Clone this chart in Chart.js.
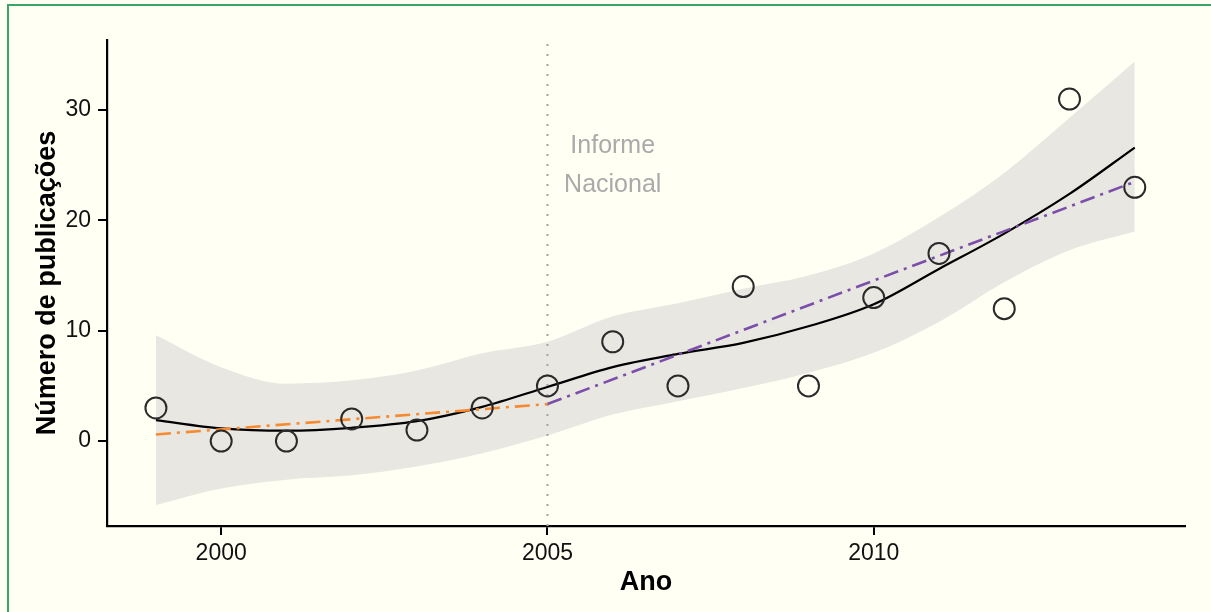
<!DOCTYPE html>
<html>
<head>
<meta charset="utf-8">
<script src="https://cdn.jsdelivr.net/npm/chart.js@4"></script>
<style>
  body { margin: 0; background: #fffff4; }
  #wrap { position: relative; width: 1211px; height: 612px; overflow: hidden; }
  #topLine { position: absolute; left: 7px; top: 4px; width: 1204px; height: 2px; background: #3aa568; }
  #leftLine { position: absolute; left: 7px; top: 4px; width: 2px; height: 608px; background: #3aa568; }
  canvas { position: absolute; left: 0; top: 0; }
</style>
</head>
<body>
<div id="wrap">
  <canvas id="chart" width="1211" height="612"></canvas>
  <div id="topLine"></div>
  <div id="leftLine"></div>
</div>
<script>
// Data
const years = [1999, 2000, 2001, 2002, 2003, 2004, 2005, 2006, 2007, 2008, 2009, 2010, 2011, 2012, 2013, 2014];
const publications = [3, 0, 0, 2, 1, 3, 5, 9, 5, 14, 5, 13, 17, 12, 31, 23];

// loess fit and its confidence band
const smoothFit = [1.9, 1.15, 0.94, 1.2, 1.8, 3.1, 4.9, 6.7, 7.9, 8.9, 10.4, 12.4, 15.6, 18.8, 22.4, 26.6];
const bandUpper = [9.6, 6.7, 5.2, 5.5, 6.4, 7.95, 9.0, 11.3, 12.5, 13.8, 15.0, 17.0, 20.3, 24.3, 29.3, 34.4];
const bandLower = [-5.8, -4.3, -3.5, -3.1, -2.3, -1.1, 0.5, 2.4, 3.6, 4.8, 6.2, 8.0, 10.8, 14.4, 17.3, 19.0];

// separate linear trends before and after the report
const trendBeforeYears = [1999, 2005];
const trendBefore = [0.6, 3.35];
const trendAfterYears = [2005, 2014];
const trendAfter = [3.35, 23.5];

const markerYear = 2005;
const noteLines = ["Informe", "Nacional"];
const noteYear = 2006;
const noteValue = 25;

const xTicks = [2000, 2005, 2010];
const yTicks = [0, 10, 20, 30];
const xRange = [1998.25, 2014.77];
const yRange = [-7.7, 36.35];

const FONT = "'Liberation Sans', Arial, Helvetica, sans-serif";

const toPoints = (xs, ys) => xs.map((x, i) => ({ x: x, y: ys[i] }));

// text note next to the vertical line
const notePlugin = {
    id: "note",
    afterDatasetsDraw(chart) {
        const { ctx, scales } = chart;
        const cx = scales.x.getPixelForValue(noteYear);
        const cy = scales.y.getPixelForValue(noteValue);
        ctx.save();
        ctx.fillStyle = "#aaaaaa";
        ctx.font = "25px " + FONT;
        ctx.textAlign = "center";
        ctx.textBaseline = "middle";
        ctx.fillText(noteLines[0], cx, cy - 19.5);
        ctx.fillText(noteLines[1], cx, cy + 19.5);
        ctx.restore();
    },
};

const ctx = document.getElementById("chart");

new Chart(ctx, {
    type: "line",
    data: {
        datasets: [
            {
                data: toPoints(years, bandUpper),
                borderWidth: 0,
                pointRadius: 0,
                backgroundColor: "#e9e7e2",
                fill: "+1",
                cubicInterpolationMode: "monotone",
                order: 10,
            },
            {
                data: toPoints(years, bandLower),
                borderWidth: 0,
                pointRadius: 0,
                fill: false,
                cubicInterpolationMode: "monotone",
                order: 10,
            },
            {
                data: toPoints([markerYear, markerYear], [yRange[0], yRange[1]]),
                borderColor: "#aaaaaa",
                borderWidth: 2.2,
                borderDash: [2, 8],
                pointRadius: 0,
                fill: false,
                order: 8,
            },
            {
                data: toPoints(years, smoothFit),
                borderColor: "#000000",
                borderWidth: 2.2,
                pointRadius: 0,
                fill: false,
                cubicInterpolationMode: "monotone",
                order: 6,
            },
            {
                data: toPoints(trendBeforeYears, trendBefore),
                borderColor: "#f7892f",
                borderWidth: 2.6,
                borderDash: [15, 6, 3, 6],
                pointRadius: 0,
                fill: false,
                order: 5,
            },
            {
                data: toPoints(trendAfterYears, trendAfter),
                borderColor: "#7b4ea9",
                borderWidth: 2.6,
                borderDash: [15, 6, 3, 6],
                pointRadius: 0,
                fill: false,
                order: 5,
            },
            {
                data: toPoints(years, publications),
                showLine: false,
                pointRadius: 10.5,
                pointBorderWidth: 2,
                pointBorderColor: "#2a2a2a",
                pointBackgroundColor: "rgba(0,0,0,0)",
                order: 1,
            },
        ],
    },
    options: {
        responsive: false,
        animation: false,
        layout: { padding: { left: 21, top: 40, right: 26, bottom: 0 } },
        plugins: {
            legend: { display: false },
            tooltip: { enabled: false },
        },
        scales: {
            x: {
                type: "linear",
                min: xRange[0],
                max: xRange[1],
                afterBuildTicks: (scale) => { scale.ticks = xTicks.map((v) => ({ value: v })); },
                afterFit: (scale) => { scale.height = 86; },
                border: { display: true, color: "#000", width: 2.2 },
                grid: { drawOnChartArea: false, drawTicks: true, tickLength: 9, color: "#000", lineWidth: 2 },
                ticks: {
                    color: "#111",
                    padding: 5,
                    maxRotation: 0,
                    font: { family: FONT, size: 23 },
                    callback: (v) => String(v),
                },
                title: {
                    display: true,
                    text: "Ano",
                    color: "#000",
                    font: { family: FONT, size: 27, weight: "bold" },
                    padding: { top: 0, bottom: 13 },
                },
            },
            y: {
                min: yRange[0],
                max: yRange[1],
                afterBuildTicks: (scale) => { scale.ticks = yTicks.map((v) => ({ value: v })); },
                afterFit: (scale) => { scale.width = 86; },
                border: { display: true, color: "#000", width: 2.2 },
                grid: { drawOnChartArea: false, drawTicks: true, tickLength: 9, color: "#000", lineWidth: 2 },
                ticks: {
                    color: "#111",
                    padding: 7,
                    font: { family: FONT, size: 23 },
                    callback: (v) => String(v),
                },
                title: {
                    display: true,
                    text: "Número de publicações",
                    color: "#000",
                    font: { family: FONT, size: 27, weight: "bold" },
                    padding: { top: 10, bottom: 0 },
                },
            },
        },
    },
    plugins: [notePlugin],
});
</script>
</body>
</html>
